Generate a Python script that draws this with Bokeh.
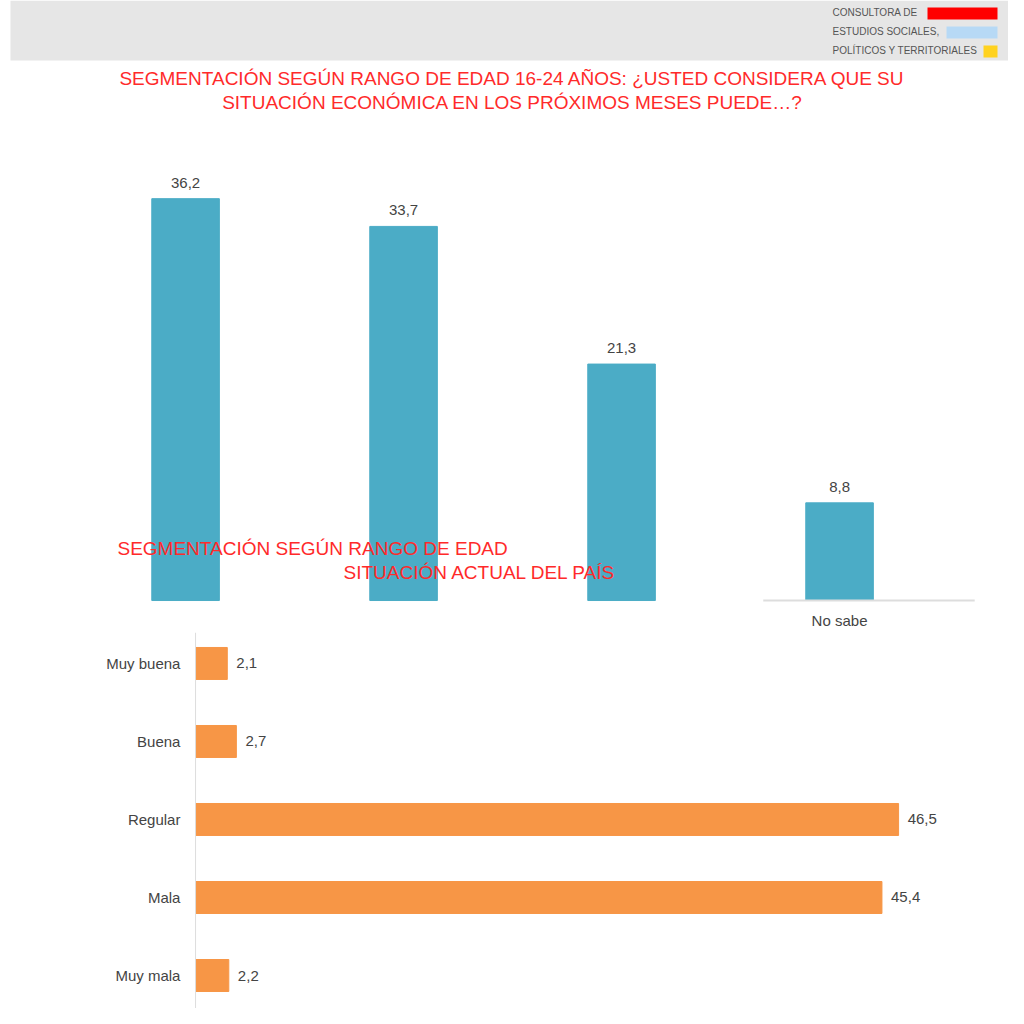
from bokeh.plotting import figure
from bokeh.layouts import column
from bokeh.models import Label, BoxAnnotation, Range1d, Span
from bokeh.core.properties import value
from bokeh.embed import file_html
from bokeh.resources import INLINE

top_vals = [36.2, 33.7, 21.3, 8.8]
top_labels = ["36,2", "33,7", "21,3", "8,8"]
bot_cats = ["Muy buena", "Buena", "Regular", "Mala", "Muy mala"]
bot_vals = [2.1, 2.7, 46.5, 45.4, 2.2]
bot_labels = ["2,1", "2,7", "46,5", "45,4", "2,2"]

RED = "#FF2A2A"
GRAY = "#444444"
FONT = "Liberation Sans"

W = 1008
p1 = figure(width=W, height=632, output_backend="svg", toolbar_location=None,
            x_range=Range1d(-0.849, 3.775), y_range=Range1d(-2.88, 54.05),
            min_border=0)
p1.axis.visible = False
p1.grid.visible = False
p1.outline_line_color = None

def sbox(top, bottom, left, right, color):
    return BoxAnnotation(top_units="screen", bottom_units="screen", left_units="screen",
                         right_units="screen", top=top, bottom=bottom, left=left, right=right,
                         fill_color=color, fill_alpha=1, line_color=None)

p1.add_layout(sbox(632, 572, 10, 1015, "#E6E6E6"))
for i, t in enumerate(["CONSULTORA DE", "ESTUDIOS SOCIALES,", "POLÍTICOS Y TERRITORIALES"]):
    p1.add_layout(Label(x=832, y=626 - 19 * i, x_units="screen", y_units="screen", text=t,
                        text_font=FONT, text_font_size="10px",
                        text_color="#555555", text_baseline="top"))
for (x0, x1, c, i) in [(927, 997, "#FF0000", 0), (946, 997, "#B7D9F5", 1), (983, 997, "#FFD21F", 2)]:
    p1.add_layout(sbox(625 - 19 * i, 613 - 19 * i, x0, x1, c))
for j, t in enumerate(["SEGMENTACIÓN SEGÚN RANGO DE EDAD 16-24 AÑOS: ¿USTED CONSIDERA QUE SU",
                       "SITUACIÓN ECONÓMICA EN LOS PRÓXIMOS MESES PUEDE…?"]):
    p1.add_layout(Label(x=512, y=554 - 24 * j, x_units="screen", y_units="screen", text=t,
                        text_font=FONT, text_font_size="19px", text_color=RED,
                        text_align="center", text_baseline="middle"))

xs = list(range(len(top_vals)))
p1.vbar(x=xs, top=top_vals, bottom=0, width=0.31, color="#4BACC6")
p1.text(x=xs, y=[v + 1.0 for v in top_vals], text=top_labels, text_font=value(FONT),
        text_font_size="15px", text_color=GRAY, text_align="center", text_baseline="bottom")
p1.segment(x0=[2.65], y0=[0], x1=[3.62], y1=[0], line_color="#DDDDDD", line_width=2)
p1.text(x=[3], y=[-1.0], text=["No sabe"], text_font=value(FONT), text_font_size="15px",
        text_color=GRAY, text_align="center", text_baseline="top")
p1.add_layout(Label(x=117, y=84, x_units="screen", y_units="screen",
                    text="SEGMENTACIÓN SEGÚN RANGO DE EDAD", text_font=FONT,
                    text_font_size="19px", text_color=RED, text_baseline="middle"))
p1.add_layout(Label(x=343, y=60, x_units="screen", y_units="screen",
                    text="SITUACIÓN ACTUAL DEL PAÍS", text_font=FONT,
                    text_font_size="19px", text_color=RED, text_baseline="middle"))

p2 = figure(width=W, height=376, output_backend="svg", toolbar_location=None,
            x_range=Range1d(-12.9, 53.77), y_range=Range1d(4.423, -0.397), min_border=0)
p2.axis.visible = False
p2.grid.visible = False
p2.outline_line_color = None
p2.add_layout(Span(location=0, dimension="height", line_color="#DDDDDD", line_width=1))
ys = list(range(len(bot_vals)))
p2.hbar(y=ys, right=bot_vals, left=0, height=0.41, color="#F79646")
p2.text(x=[v + 0.6 for v in bot_vals], y=ys, text=bot_labels, text_font=value(FONT),
        text_font_size="15px", text_color=GRAY, text_baseline="middle")
p2.text(x=[-1.0] * 5, y=ys, text=bot_cats, text_font=value(FONT), text_font_size="15px",
        text_color=GRAY, text_align="right", text_baseline="middle")

open("out.html", "w").write(file_html(column(p1, p2, spacing=0), INLINE))
